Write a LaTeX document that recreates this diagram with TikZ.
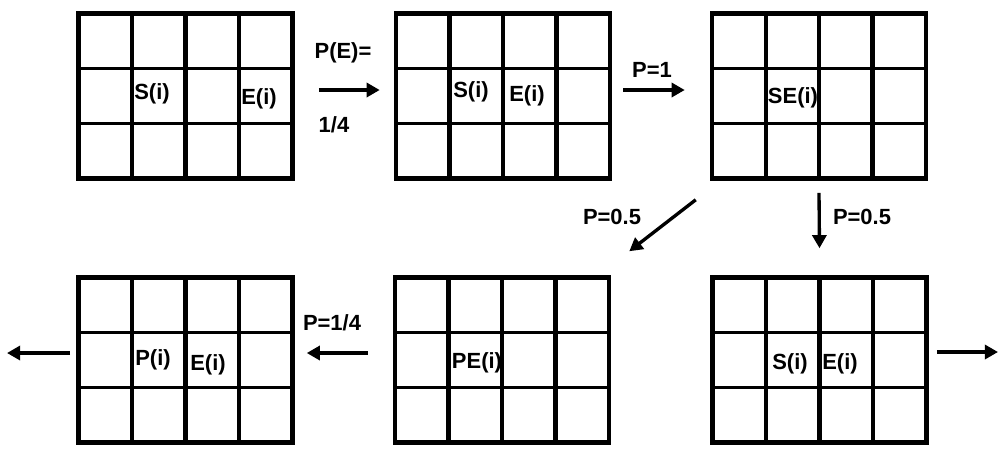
\documentclass[tikz,border=0pt]{standalone}
\usepackage{fontspec}
\setmainfont{Liberation Sans}
\usetikzlibrary{arrows.meta,calc}
\tikzset{
  statebox/.style={draw, line width=2.6pt, minimum width=4.28cm, minimum height=3.3cm, inner sep=0pt,
    path picture={
      \foreach \i in {1,2,3}
        \draw[line width=2.3pt] ($(path picture bounding box.north west)!\i/4!(path picture bounding box.north east)$) -- ($(path picture bounding box.south west)!\i/4!(path picture bounding box.south east)$);
      \foreach \i in {1,2}
        \draw[line width=2.1pt] ($(path picture bounding box.north west)!\i/3!(path picture bounding box.south west)$) -- ($(path picture bounding box.north east)!\i/3!(path picture bounding box.south east)$);
    }},
  lab/.style={font=\bfseries\fontsize{12.5}{14}\selectfont, inner sep=0pt},
  arr/.style={line width=1.9pt, -{Triangle[length=7.5pt,width=8pt]}}
}
\begin{document}
\begin{tikzpicture}[x=0.02cm, y=-0.02cm]
\useasboundingbox (0,0) rectangle (1000,458);

\node[statebox] (g1) at (185.5,96) {};
\node[statebox] (g2) at (503,96) {};
\node[statebox] (g3) at (819,96) {};
\node[statebox] (g4) at (185.5,360) {};
\node[statebox] (g5) at (502,360) {};
\node[statebox] (g6) at (819.5,360) {};

\node[lab] (s1) at (152,94) {S(i)};
\node[lab] (e1) at (259,99) {E(i)};
\node[lab] (s2) at (471,92) {S(i)};
\node[lab] (e2) at (527,96) {E(i)};
\node[lab] (se3) at (793,98) {SE(i)};
\node[lab] (p4) at (153,360) {P(i)};
\node[lab] (e4) at (208,365) {E(i)};
\node[lab] (pe5) at (477,363) {PE(i)};
\node[lab] (s6) at (790,364) {S(i)};
\node[lab] (e6) at (840,364) {E(i)};

\coordinate (exitl) at (7,353);
\coordinate (exitr) at (998,352);

\draw[arr] ($(g1.east)+(24,-6)$) -- ($(g2.west)+(-14,-6)$);
\node[lab] (pe) at (343,53) {P(E)=};
\node[lab] (quarter) at (334,125) {1/4};

\draw[arr] ($(g2.east)+(11,-6)$) -- ($(g3.west)+(-25,-6)$);
\node[lab] (pone) at (652,70) {P=1};

\draw[arr] ($(g3.south west)+(-14,19)$) -- ($(g5.north east)+(18,-24)$);
\node[lab] (phalfa) at (612,217) {P=0.5};

\draw[arr] ($(g3.south)+(0,12)$) -- ($(g6.north)+(0,-27)$);
\node[lab] (phalfb) at (862,217) {P=0.5};

\draw[arr] ($(g5.west)+(-25,-7)$) -- ($(g4.east)+(12,-7)$);
\node[lab] (pquarter) at (332,323) {P=1/4};

\draw[arr] ($(g4.west)+(-6,-7)$) -- (exitl);
\draw[arr] ($(g6.east)+(8,-8)$) -- (exitr);
\end{tikzpicture}
\end{document}
